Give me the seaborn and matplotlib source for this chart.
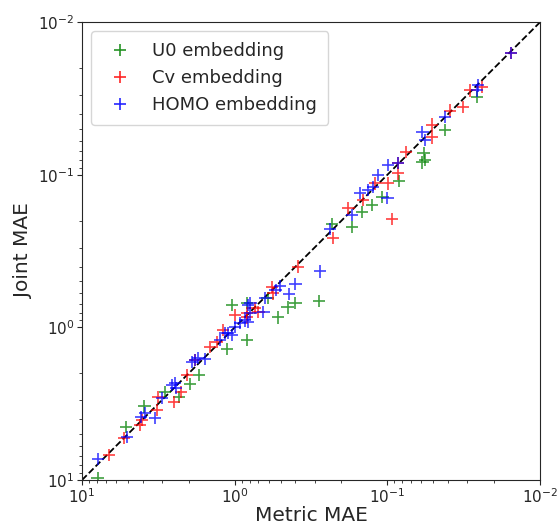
import matplotlib
matplotlib.use("Agg")
import matplotlib.pyplot as plt
import numpy as np
import pandas as pd
import seaborn as sns

# Metric MAE (x) vs Joint MAE (y)
u0_metric = [7.9, 5.15, 3.9, 2.86, 2.32, 1.96, 1.71, 1.12, 0.83, 1.04, 0.83, 0.61, 0.52,
             0.45, 0.40, 0.28, 0.23, 0.17, 0.147, 0.126, 0.108, 0.084, 0.058, 0.059,
             0.057, 0.042, 0.026]
u0_joint = [9.7, 4.5, 3.3, 2.65, 2.86, 2.35, 2.05, 1.39, 1.21, 0.715, 0.69, 0.64, 0.86,
            0.74, 0.69, 0.67, 0.21, 0.22, 0.176, 0.158, 0.14, 0.11, 0.072, 0.083,
            0.080, 0.051, 0.031]

cv_metric = [6.65, 5.3, 4.17, 4.05, 3.23, 3.18, 2.5, 2.25, 2.05, 1.82, 1.45, 1.31, 1.19,
             1.0, 0.83, 0.83, 0.74, 0.70, 0.57, 0.56, 0.385, 0.227, 0.18, 0.145, 0.12,
             0.099, 0.085, 0.093, 0.0755, 0.051, 0.051, 0.039, 0.032, 0.0288, 0.024,
             0.0155, 0.085]
cv_joint = [6.86, 5.3, 4.37, 4.05, 3.48, 2.86, 3.08, 2.65, 2.05, 1.64, 1.35, 1.25, 1.04,
            0.83, 0.81, 0.86, 0.75, 0.79, 0.545, 0.60, 0.40, 0.26, 0.166, 0.147, 0.114,
            0.114, 0.098, 0.195, 0.071, 0.047, 0.057, 0.038, 0.036, 0.028, 0.0267,
            0.016, 0.084]

homo_metric = [7.85, 5.07, 4.1, 3.87, 3.33, 3.0, 2.57, 2.42, 2.46, 1.9, 1.82, 1.74, 1.56,
               1.25, 1.16, 1.04, 1.11, 0.995, 0.92, 0.86, 0.82, 0.79, 0.79, 0.65, 0.63,
               0.54, 0.505, 0.44, 0.40, 0.276, 0.238, 0.171, 0.151, 0.134, 0.124, 0.115,
               0.10, 0.099, 0.085, 0.057, 0.059, 0.042, 0.0255, 0.026, 0.0155, 0.82]
homo_joint = [7.3, 5.23, 3.87, 3.64, 3.93, 2.9, 2.39, 2.5, 2.32, 1.69, 1.64, 1.59, 1.61,
              1.21, 1.09, 1.12, 1.09, 0.995, 0.94, 0.90, 0.92, 0.81, 0.69, 0.79, 0.64,
              0.57, 0.537, 0.605, 0.52, 0.43, 0.227, 0.184, 0.132, 0.126, 0.12, 0.10,
              0.142, 0.0865, 0.084, 0.059, 0.0526, 0.042, 0.026, 0.028, 0.016, 0.715]

labels = ["U0 embedding", "Cv embedding", "HOMO embedding"]
colors = ["green", "red", "blue"]

df = pd.concat([
    pd.DataFrame({"metric": u0_metric, "joint": u0_joint, "emb": labels[0]}),
    pd.DataFrame({"metric": cv_metric, "joint": cv_joint, "emb": labels[1]}),
    pd.DataFrame({"metric": homo_metric, "joint": homo_joint, "emb": labels[2]}),
])

sns.set_style("ticks")
plt.rcParams['font.family'] = ['DejaVu Sans']

fig = plt.figure(figsize=(5.58, 5.26), dpi=100)
ax = fig.add_axes([0.147, 0.0875, 0.821, 0.8705])

ax.plot([10, 0.01], [10, 0.01], 'k--', lw=1.3, zorder=1)

sns.scatterplot(data=df, x="metric", y="joint", hue="emb", hue_order=labels,
                palette=dict(zip(labels, colors)), marker="+", s=80,
                linewidth=1.2, alpha=0.75, ax=ax, zorder=2)

ax.set_xscale("log")
ax.set_yscale("log")
ax.set_xlim(10, 0.01)
ax.set_ylim(10, 0.01)
ax.tick_params(labelsize=11, pad=2)
ax.set_xlabel("Metric MAE", fontsize=14.5, labelpad=0)
ax.set_ylabel("Joint MAE", fontsize=14.5, labelpad=4)
for s in ax.spines.values():
    s.set_visible(True)

leg = ax.legend(loc="upper left", fontsize=13, markerscale=0.9, handletextpad=0.8,
                borderpad=0.6)
for h in leg.legend_handles:
    h.set_alpha(0.85)

fig.savefig("out.png", dpi=100)
